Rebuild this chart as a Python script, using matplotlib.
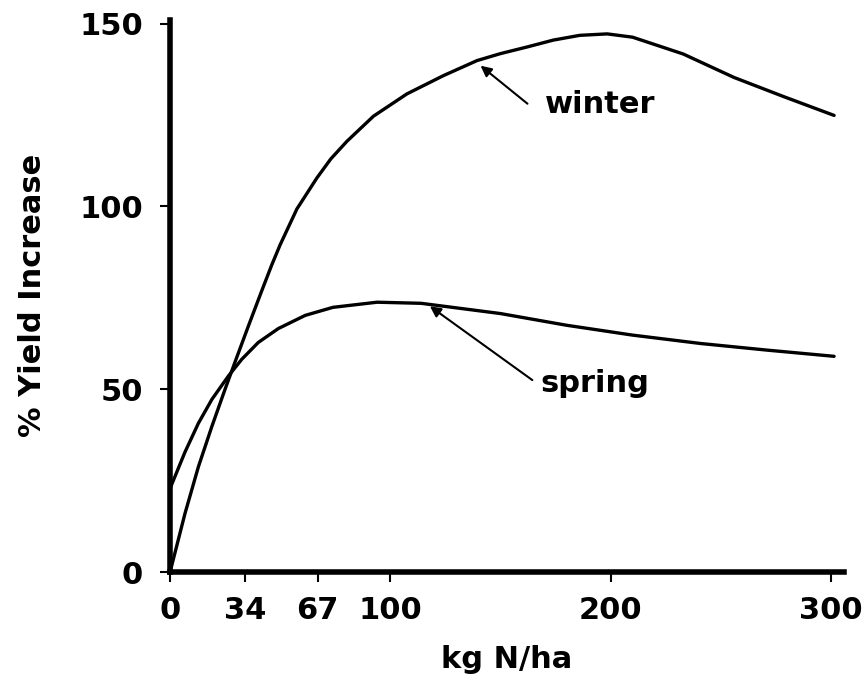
import matplotlib
matplotlib.use("Agg")
import matplotlib.pyplot as plt

# Data (kg N/ha vs % yield increase)
winter_x = [0, 0.8, 6.8, 12.9, 19.0, 25.0, 29.5, 35.6, 41.7, 46.2, 50, 57.6, 66.7, 73, 80.3, 92.4,
            107.6, 124.2, 139.4, 150, 162, 174, 186, 198.5, 210, 233, 256, 278.8, 301.5]
winter_y = [0, 1.8, 16.0, 28.8, 39.8, 50.0, 57.4, 67.3, 77.0, 84.0, 89.5, 99.3, 107.8, 113.0, 117.8, 124.7,
            130.8, 135.8, 139.9, 141.8, 143.6, 145.5, 146.8, 147.2, 146.3, 141.7, 135.3, 130.0, 124.9]

spring_x = [0, 6.8, 12.9, 19, 26.5, 32.6, 40.1, 49.2, 61.4, 74, 94, 114, 150, 180, 210, 241, 271, 301.5]
spring_y = [22.8, 32.8, 40.7, 47.2, 53.6, 58.2, 62.8, 66.6, 70.2, 72.4, 73.8, 73.5, 70.7, 67.5, 64.8, 62.5, 60.7, 59]

x_ticks = [0, 34, 67, 100, 200, 300]
y_ticks = [0, 50, 100, 150]

FONT = "DejaVu Sans"
FS = 22

fig = plt.figure(figsize=(8.64, 6.83), dpi=100)
ax = fig.add_axes([170/864, 1 - 572/683, (844-170)/864, (572-20)/683])

ax.plot(winter_x, winter_y, color="black", lw=2.4, solid_capstyle="round", solid_joinstyle="round")
ax.plot(spring_x, spring_y, color="black", lw=2.4, solid_capstyle="round", solid_joinstyle="round")

ax.set_xlim(0, 306)
ax.set_ylim(0, 151)

for s in ["top", "right"]:
    ax.spines[s].set_visible(False)
for s in ["left", "bottom"]:
    ax.spines[s].set_linewidth(4)

ax.set_xticks(x_ticks)
ax.set_xticklabels([str(v) for v in x_ticks], fontsize=FS, family=FONT, fontweight="bold")
ax.set_yticks(y_ticks)
ax.set_yticklabels([str(v) for v in y_ticks], fontsize=FS, family=FONT, fontweight="bold")
ax.tick_params(axis="y", direction="out", length=7, width=1.5, pad=12.5)
ax.tick_params(axis="x", direction="out", length=7, width=1.5, pad=10)

ax.set_xlabel("kg N/ha", fontsize=FS, family=FONT, fontweight="bold")
ax.xaxis.set_label_coords(0.5, -0.132)
ax.xaxis.label.set_va("top")
ax.set_ylabel("% Yield Increase", fontsize=FS, family=FONT, fontweight="bold")
ax.yaxis.set_label_coords(-0.182, 0.502)

arrow_kw = dict(arrowstyle="-|>", color="black", lw=1.5, mutation_scale=16, shrinkA=0, shrinkB=0)
ax.annotate("", xy=(141, 138.5), xytext=(162.3, 128.1), arrowprops=arrow_kw)
ax.text(170, 128, "winter", fontsize=FS, family=FONT, fontweight="bold", va="center", ha="left")
ax.annotate("", xy=(118, 72.7), xytext=(164.5, 52.5), arrowprops=arrow_kw)
ax.text(168, 51.5, "spring", fontsize=FS, family=FONT, fontweight="bold", va="center", ha="left")

fig.savefig("out.png", dpi=100)
